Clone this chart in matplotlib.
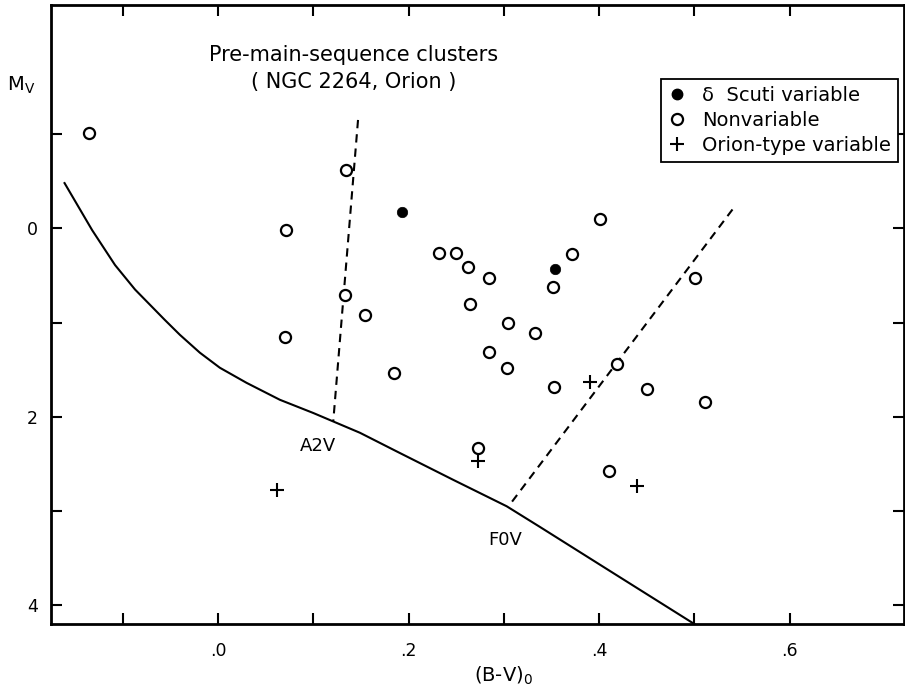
import matplotlib
matplotlib.use('Agg')
import matplotlib.pyplot as plt
from matplotlib.lines import Line2D

plt.rcParams['font.family'] = 'DejaVu Sans'
plt.rcParams['lines.scale_dashes'] = False

# delta Scuti variables
scuti_bv = [0.193, 0.354]
scuti_mv = [-0.17, 0.43]

# nonvariable stars
nonvar_bv = [-0.135, 0.134, 0.071, 0.133, 0.154, 0.070, 0.185, 0.232, 0.250,
             0.262, 0.284, 0.352, 0.372, 0.264, 0.304, 0.333, 0.284, 0.303,
             0.353, 0.401, 0.501, 0.419, 0.450, 0.511, 0.410, 0.273]
nonvar_mv = [-1.01, -0.62, 0.02, 0.71, 0.92, 1.15, 1.54, 0.26, 0.26,
             0.41, 0.53, 0.62, 0.27, 0.80, 1.01, 1.11, 1.31, 1.48,
             1.68, -0.10, 0.53, 1.44, 1.71, 1.84, 2.58, 2.33]

# Orion-type variables
orion_bv = [0.062, 0.273, 0.390, 0.440]
orion_mv = [2.78, 2.47, 1.63, 2.73]

# zero-age main sequence
zams_bv = [-0.161, -0.132, -0.108, -0.087, -0.056, -0.040, -0.019, 0.002,
           0.030, 0.065, 0.100, 0.121, 0.149, 0.188, 0.247, 0.303, 0.338,
           0.404, 0.500]
zams_mv = [-0.48, 0.02, 0.39, 0.65, 0.97, 1.13, 1.32, 1.48,
           1.64, 1.82, 1.96, 2.05, 2.17, 2.37, 2.67, 2.95, 3.17,
           3.59, 4.20]

# instability strip edges
blue_edge_bv = [0.147, 0.121]
blue_edge_mv = [-1.15, 2.05]
red_edge_bv = [0.540, 0.305]
red_edge_mv = [-0.20, 2.95]

xticks = [-0.1, 0.0, 0.1, 0.2, 0.3, 0.4, 0.5, 0.6]
xlabels = ['', '.0', '', '.2', '', '.4', '', '.6']
yticks = [-1, 0, 1, 2, 3, 4]
ylabels = ['', '0', '', '2', '', '4']

fig = plt.figure(figsize=(9.05, 6.96), dpi=100)
ax = fig.add_axes([0.0569, 0.1034, 0.942, 0.8894])

ax.plot(zams_bv, zams_mv, color='k', lw=1.5)
ax.plot(blue_edge_bv, blue_edge_mv, color='k', lw=1.5, dashes=(6, 4.3))
ax.plot(red_edge_bv, red_edge_mv, color='k', lw=1.5, dashes=(6, 4.3))

ax.plot(nonvar_bv, nonvar_mv, 'o', ms=8, mfc='white', mec='k', mew=1.6)
ax.plot(scuti_bv, scuti_mv, 'o', ms=7.5, mfc='k', mec='k', mew=0.5)
ax.plot(orion_bv, orion_mv, '+', ms=10, mec='k', mew=1.5)

ax.text(0.105, 2.31, 'A2V', fontsize=13, ha='center', va='center')
ax.text(0.301, 3.31, 'F0V', fontsize=13, ha='center', va='center')

ax.text(0.142, -1.84, 'Pre-main-sequence clusters', fontsize=15,
        ha='center', va='center')
ax.text(0.142, -1.55, '( NGC 2264, Orion )', fontsize=15,
        ha='center', va='center')

ax.set_xlim(-0.1747, 0.720)
ax.set_ylim(4.20, -2.37)
ax.set_xticks(xticks)
ax.set_xticklabels(xlabels)
ax.set_yticks(yticks)
ax.set_yticklabels(ylabels)
ax.tick_params(direction='in', top=True, right=True, length=8, width=1.5,
               labelsize=12.5)
ax.tick_params(axis='x', pad=13)
ax.tick_params(axis='y', pad=10)
for s in ax.spines.values():
    s.set_linewidth(2)

ax.set_xlabel(r'(B-V)$_{\rm 0}$', fontsize=14, va='top')
ax.xaxis.set_label_coords(0.530, -0.066)
ax.set_ylabel(r'M$_{\rm V}$', fontsize=14, rotation=0, ha='left', va='center')
ax.yaxis.set_label_coords(-0.052, 0.871)

handles = [
    Line2D([], [], ls='none', marker='o', ms=7.5, mfc='k', mec='k'),
    Line2D([], [], ls='none', marker='o', ms=8, mfc='white', mec='k', mew=1.6),
    Line2D([], [], ls='none', marker='+', ms=10, mec='k', mew=1.5),
]
labels = [u'\u03b4  Scuti variable', 'Nonvariable', 'Orion-type variable']
leg = ax.legend(handles, labels, loc='upper right',
                bbox_to_anchor=(0.993, 0.880), borderaxespad=0,
                fontsize=14, frameon=True, fancybox=False, edgecolor='k',
                framealpha=1, borderpad=0.35, handlelength=1.0,
                handletextpad=0.8, labelspacing=0.3)
leg.get_frame().set_linewidth(1.3)

fig.savefig('out.png', dpi=100, facecolor='white')
